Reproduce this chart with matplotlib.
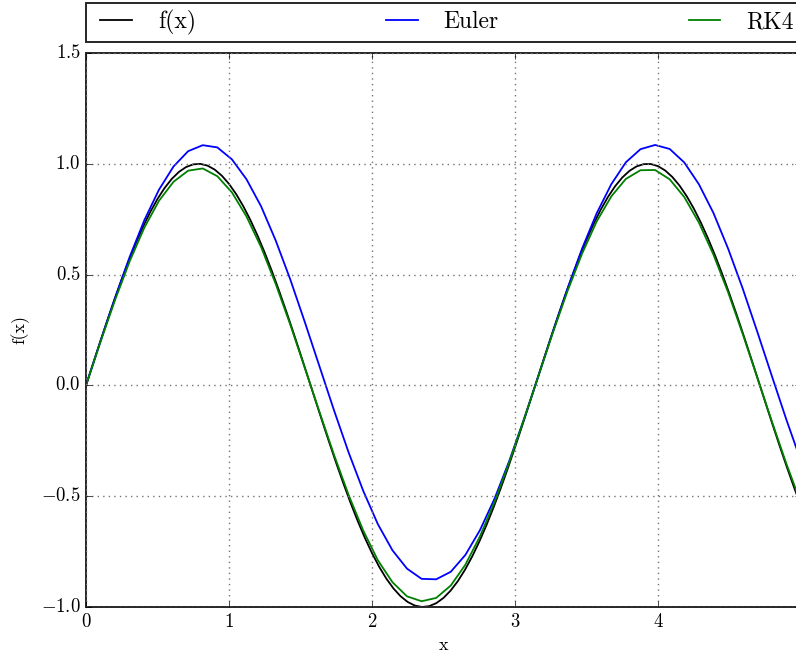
import numpy as np
import matplotlib
matplotlib.use("Agg")
import matplotlib.pyplot as plt

# Solver grid: 50 points on [0, 5]; the exact curve uses a finer grid
x_start, x_stop = 0.0, 5.0
n_solver, n_exact = 50, 101

# Exact solution f(x) = sin(2x) on the fine grid
exact = [0.0000, 0.0998, 0.1987, 0.2955, 0.3894, 0.4794, 0.5646, 0.6442, 0.7174, 0.7833,
         0.8415, 0.8912, 0.9320, 0.9636, 0.9854, 0.9975, 0.9996, 0.9917, 0.9738, 0.9463,
         0.9093, 0.8632, 0.8085, 0.7457, 0.6755, 0.5985, 0.5155, 0.4274, 0.3350, 0.2392,
         0.1411, 0.0416, -0.0584, -0.1577, -0.2555, -0.3508, -0.4425, -0.5298, -0.6119, -0.6878,
         -0.7568, -0.8183, -0.8716, -0.9162, -0.9516, -0.9775, -0.9937, -0.9999, -0.9962, -0.9825,
         -0.9589, -0.9258, -0.8835, -0.8323, -0.7728, -0.7055, -0.6313, -0.5507, -0.4646, -0.3739,
         -0.2794, -0.1822, -0.0831, 0.0168, 0.1165, 0.2151, 0.3115, 0.4048, 0.4941, 0.5784,
         0.6570, 0.7290, 0.7937, 0.8504, 0.8987, 0.9380, 0.9679, 0.9882, 0.9985, 0.9989,
         0.9894, 0.9699, 0.9407, 0.9022, 0.8546, 0.7985, 0.7344, 0.6630, 0.5849, 0.5010,
         0.4121, 0.3191, 0.2229, 0.1245, 0.0248, -0.0752, -0.1743, -0.2718, -0.3665, -0.4575,
         -0.5440]

# Explicit Euler approximation
euler = [0.000, 0.201, 0.397, 0.581, 0.746, 0.883, 0.988, 1.057, 1.084, 1.074,
         1.020, 0.930, 0.808, 0.654, 0.478, 0.285, 0.086, -0.113, -0.303, -0.476,
         -0.626, -0.744, -0.827, -0.873, -0.875, -0.841, -0.765, -0.653, -0.511, -0.342,
         -0.155, 0.042, 0.243, 0.437, 0.618, 0.777, 0.908, 1.007, 1.066, 1.085,
         1.067, 1.006, 0.908, 0.778, 0.618, 0.438, 0.243, 0.043, -0.155, -0.342]

# Runge-Kutta 4 approximation
rk4 = [0.000, 0.198, 0.387, 0.561, 0.712, 0.833, 0.919, 0.969, 0.979, 0.944,
       0.871, 0.762, 0.624, 0.458, 0.274, 0.078, -0.120, -0.314, -0.495, -0.655,
       -0.789, -0.888, -0.952, -0.974, -0.959, -0.903, -0.809, -0.681, -0.526, -0.348,
       -0.156, 0.042, 0.239, 0.426, 0.595, 0.740, 0.853, 0.932, 0.971, 0.972,
       0.930, 0.850, 0.735, 0.590, 0.421, 0.233, 0.036, -0.162, -0.354, -0.531]

series_labels = ["f(x)", "Euler", "RK4"]
series_colors = ["k", "b", "g"]
x_ticks = [0, 1, 2, 3, 4]
y_ticks = [-1.0, -0.5, 0.0, 0.5, 1.0, 1.5]

plt.style.use("classic")
plt.rcParams["font.family"] = "serif"
plt.rcParams["font.serif"] = ["cmr10"]
plt.rcParams["mathtext.fontset"] = "cm"
plt.rcParams["axes.formatter.use_mathtext"] = True
plt.rcParams["axes.unicode_minus"] = True

x_fine = np.linspace(x_start, x_stop, n_exact)
x_step = np.linspace(x_start, x_stop, n_solver)

fig = plt.figure(figsize=(7.96, 6.60), dpi=100, facecolor="white")
ax = fig.add_axes([86 / 796, 53 / 660, 715 / 796, 554 / 660])
ax.set_facecolor("white")

for xs, values, label, color in zip([x_fine, x_step, x_step], [exact, euler, rk4],
                                    series_labels, series_colors):
    ax.plot(xs, values, color=color, lw=1.3, label=label)

ax.set_xlim(0, 5)
ax.set_ylim(-1.0, 1.5)
ax.set_xticks(x_ticks)
ax.set_yticks(y_ticks)
ax.grid(True, color="0.45", linestyle=":", linewidth=1.0)
ax.tick_params(labelsize=13.5)
for spine in ax.spines.values():
    spine.set_linewidth(1.4)
    spine.set_color("0.15")
ax.set_xlabel("x", fontsize=13)
ax.set_ylabel("f(x)", fontsize=13, labelpad=8)

leg = ax.legend(bbox_to_anchor=(0.0, 1.02, 1.0, 0.102), loc=3, ncol=3,
                mode="expand", borderaxespad=0.0, fontsize=17, borderpad=0.3,
                handlelength=1.95, handletextpad=0.8)
leg.get_frame().set_linewidth(1.4)
leg.get_frame().set_edgecolor("0.15")

fig.savefig("out.png", dpi=100, facecolor="white")
